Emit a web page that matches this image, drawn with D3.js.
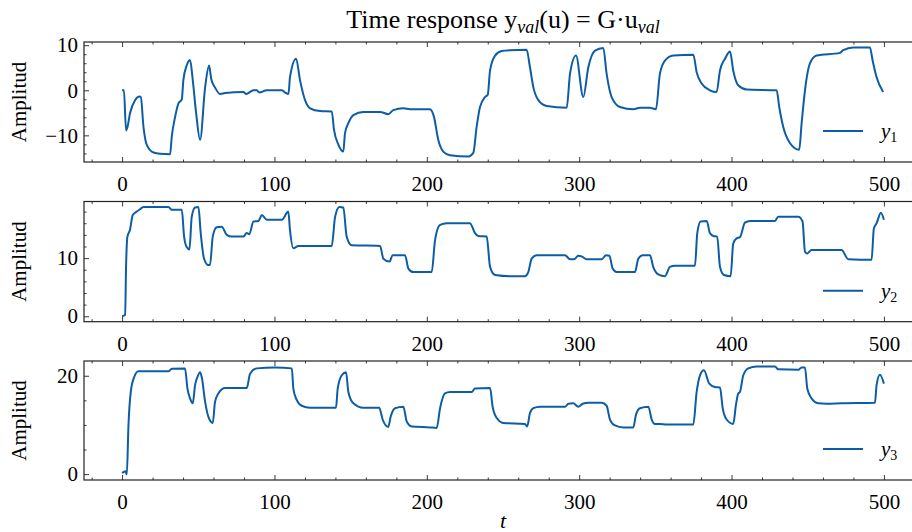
<!DOCTYPE html>
<html>
<head>
<meta charset="utf-8">
<script src="https://cdn.jsdelivr.net/npm/d3@7"></script>
<style>
  body { margin: 0; background: #fff; }
  text { font-family: "Liberation Serif", "DejaVu Serif", serif; fill: #000; }
</style>
</head>
<body>
<svg id="fig" width="912" height="532"></svg>
<script>
// time axis ticks
var xMajor = [0, 100, 200, 300, 400, 500];

// y1 readings (t, value)
var y1T = [0,1.2,2.6,3.5,5.2,8.5,11.5,12.3,14,16.2,20.6,25,31.5,32.6,34.8,37,39.2,40.2,42.4,44.6,46.4,48.6,51.2,54.5,57.1,58.5,61,64.3,67.6,79.6,81.4,86.2,88.3,90.1,95,104.8,107,109.2,110.2,114.2,116.8,120.1,123.4,130,137.6,139.1,142,145.2,146.3,148.5,151.8,158.3,169.3,174.7,178,184.6,189,202,204.7,207.5,210.8,215.2,227.2,230.5,232.7,234.9,238.2,240,241.5,244.8,249.1,254.6,265.5,267.7,269.9,273.2,278.7,291.8,294,297.9,302.7,306,310.4,315.8,318,321.3,326.8,335.5,339.9,346.4,350.4,353,356.3,361.8,374.9,377.1,380.4,385.8,390.2,392.4,395.7,399,401.1,404.4,409.9,429.6,431.3,433.9,438.3,444.4,446,448.2,451.4,455.8,471.1,473.3,479.9,490.8,492.6,495.2,499.5];
var y1V = [0,0,-8.9,-8.2,-5.1,-2.2,-1.4,-1.5,-8,-12.1,-13.8,-14.1,-14.2,-10.3,-5.9,-2.9,-2.0,2.2,5.5,6.7,2.2,-5.1,-11.0,0.7,5.5,2.5,0.6,-0.8,-0.6,-0.4,-0.8,0,0,-0.5,0,0,-0.5,-0.8,2.9,7.0,2.2,-2.2,-4.0,-4.6,-4.7,-8.8,-12.1,-13.6,-9.5,-7.3,-5.5,-4.8,-4.8,-5.3,-4.4,-4.0,-4.2,-4.2,-5.9,-11,-13.6,-14.4,-14.7,-13.9,-8.1,-3.7,-1.5,-1.0,4.4,7.7,8.7,8.9,9.0,5.1,0.7,-2.2,-3.5,-3.9,3.7,7.7,-1.5,5.1,8.8,9.4,3.7,-1.5,-3.7,-4.2,-3.9,-3.9,-4.2,3.7,6.6,7.7,7.9,4.0,1.5,0,-0.4,4.4,7.0,8.6,4.4,1.1,0.15,0,-3.7,-8.1,-11.7,-13.2,-7.3,0,5.9,7.7,8.3,8.9,9.5,9.5,6.6,2.9,-0.4];

// y2 readings
var y2T = [0,2,2.6,3.5,5.2,7,9.6,11.8,14,30.4,32.6,39.2,40.7,42.4,44.2,45.7,47.9,50.1,51.6,53.8,56.6,57.7,59.5,62.1,65.4,68.7,72,79.6,81.8,83.5,86.2,89.5,91.7,95,104.8,109.1,110.2,112.4,115.7,137.6,139.8,142.6,145.2,147.4,150.7,169.3,171.5,175.5,177.6,185.7,187.9,191.1,203.2,205.4,208.7,213.1,228.3,231.6,233.8,239.3,241.5,244.8,254.6,264.4,266.6,268.8,272.1,290.7,294,296.6,299.4,301.6,304.9,314.8,317.6,319.8,322,324.6,336.6,338.8,341.7,346.5,348.6,351.9,356.3,359.6,362.9,376,377.5,379.7,383.7,385.8,388,390.6,392.4,395,399.4,401.1,403.3,405.5,408.8,412.1,428.5,430.6,443.8,446.6,448.2,449.7,452.5,472.2,476.6,491.9,493.4,495.2,498,500];
var y2V = [0,0.2,8.5,13.7,14.9,17.4,18.0,18.4,18.8,18.8,18.3,18.3,13.7,11.9,11.5,17.1,18.7,18.8,14.3,9.9,8.8,8.8,13.7,15.3,15.4,14.0,13.7,13.7,14.3,14.1,16.3,16.4,17.4,16.6,16.6,18.0,14.8,11.7,12.1,12.1,17.1,18.8,18.7,13.7,12.2,12.1,9.9,9.4,10.5,10.5,8.2,7.6,7.6,13.1,15.7,16.0,16.0,14.3,13.8,13.7,8.5,7.1,6.9,6.9,7.6,9.9,10.5,10.5,9.8,9.8,10.4,10.3,9.8,9.8,10.5,10.4,8.2,7.6,7.6,9.9,10.5,10.5,8.5,7.2,6.9,8.5,8.7,8.7,14.3,16.3,16.4,14.3,13.8,13.7,8.5,7.1,6.9,12.5,13.4,13.6,16.1,16.4,16.4,17.1,17.1,16.3,11.1,10.8,11.4,11.4,9.8,9.7,15.1,16.0,17.8,16.6];

// y3 readings
var y3T = [0,2.2,3.1,4.2,5.7,7.9,10.7,30.4,32.6,41.3,42.9,44.6,46.4,47.9,49.4,51.2,52.3,54.5,56.6,59.5,61,63.2,67.6,81.8,84,88.4,100.4,111.4,112.4,114.6,117.9,123.4,140.4,141.5,144.2,147,148.5,151.8,158.3,168.8,171,174.7,176.3,179.1,184.6,186.8,190.1,202,206.5,208.7,211.9,215.2,229.5,231.6,241.5,243.2,245.9,250.2,264.4,265.9,267.7,269.9,274.3,290.7,292.9,296.1,299.4,302.3,306,314.8,318,320.2,323.5,329,335.5,337.3,339.9,345.4,347.6,349.7,353,357.4,374.9,377.1,379.3,381.9,385.4,389.1,392.4,394.2,396.8,401.1,402.9,404.4,405.5,407.7,411,416.4,428.5,430.6,443.8,446,448.2,449.7,452.5,456.9,462.4,472.2,494.1,495.2,497.4,500];
var y3V = [0.2,0.6,-0.1,10.1,16.7,19.7,20.9,20.9,21.4,21.5,17.4,15.4,14.4,18.1,19.7,20.7,19.7,14.7,11.7,10.4,14.7,16.4,17.5,17.5,20.4,21.5,21.7,21.5,17.4,15.1,13.9,13.5,13.5,17.4,20.1,20.7,16.7,14.4,13.5,13.5,11.1,9.6,11.7,13.4,13.7,10.7,9.7,9.5,9.4,13.4,16.4,16.7,16.7,17.4,17.5,13.7,11.4,10.4,10.2,9.7,12.4,13.4,13.7,13.7,14.3,14.4,13.7,14.3,14.5,14.5,13.9,11.1,9.9,9.5,9.5,12.1,13.4,13.7,11.1,10.2,10.2,10.1,10.1,16.7,20.1,21.1,18.4,17.7,17.6,13.4,11.1,10.2,14.1,16.4,16.7,20.1,21.5,21.9,21.9,21.3,21.2,21.7,21.7,17.4,15.4,14.4,14.3,14.4,14.5,18.1,20.2,18.4];

// y-axis ticks per panel
var y1Major = [-10, 0, 10];
var y2Major = [0, 10];
var y3Major = [0, 20];

var seriesNames = ["1", "2", "3"];

var lineColor = "#0C5DA5";
var svg = d3.select("#fig");

var x = d3.scaleLinear().domain([-25, 525]).range([84, 922]);
var xMinor = d3.range(-20, 521, 20).filter(function(d){ return xMajor.indexOf(d) < 0; });

var panels = [
  {T: y1T, V: y1V, major: y1Major, minorStep: 2, top: 42, bottom: 162},
  {T: y2T, V: y2V, major: y2Major, minorStep: 2, top: 201.5, bottom: 321.7},
  {T: y3T, V: y3V, major: y3Major, minorStep: 5, top: 361, bottom: 480}
];

var fmt = function(d){ return d3.format("d")(d).replace("-", "\u2212"); };

panels.forEach(function(p, i){
  var ext = d3.extent(p.V);
  var pad = (ext[1] - ext[0]) * 0.05;
  var y = d3.scaleLinear().domain([ext[0] - pad, ext[1] + pad]).range([p.bottom, p.top]);
  var dom = y.domain();
  var yMinor = d3.range(Math.ceil(dom[0] / p.minorStep) * p.minorStep, dom[1], p.minorStep)
    .filter(function(d){ return p.major.indexOf(d) < 0; });

  var g = svg.append("g");

  // data line
  var pts = d3.zip(p.T, p.V);
  g.append("path")
    .datum(pts)
    .attr("fill", "none")
    .attr("stroke", lineColor)
    .attr("stroke-width", 2)
    .attr("stroke-linejoin", "round")
    .attr("d", d3.line().x(function(d){ return x(d[0]); }).y(function(d){ return y(d[1]); }).curve(d3.curveMonotoneX));

  // ticks: bottom/top/left/right, inward
  var addAxis = function(axis, tr, labels){
    var a = g.append("g").attr("transform", tr).call(axis);
    a.select(".domain").remove();
    a.selectAll("line").attr("stroke", "#222").attr("stroke-width", 0.9);
    a.attr("font-family", null).attr("font-size", 21);
    if (!labels) a.selectAll("text").remove();
    return a;
  };
  addAxis(d3.axisBottom(x).tickValues(xMajor).tickSize(-5).tickPadding(14).tickFormat(fmt), "translate(0," + p.bottom + ")", true);
  addAxis(d3.axisBottom(x).tickValues(xMinor).tickSize(-2.5).tickFormat(""), "translate(0," + p.bottom + ")", false);
  addAxis(d3.axisTop(x).tickValues(xMajor).tickSize(-5).tickFormat(""), "translate(0," + p.top + ")", false);
  addAxis(d3.axisTop(x).tickValues(xMinor).tickSize(-2.5).tickFormat(""), "translate(0," + p.top + ")", false);
  addAxis(d3.axisLeft(y).tickValues(p.major).tickSize(-5).tickPadding(6).tickFormat(fmt), "translate(84,0)", true);
  addAxis(d3.axisLeft(y).tickValues(yMinor).tickSize(-2.5).tickFormat(""), "translate(84,0)", false);
  addAxis(d3.axisRight(y).tickValues(p.major).tickSize(-5).tickFormat(""), "translate(922,0)", false);
  addAxis(d3.axisRight(y).tickValues(yMinor).tickSize(-2.5).tickFormat(""), "translate(922,0)", false);

  // frame
  g.append("rect")
    .attr("x", 84).attr("y", p.top)
    .attr("width", 922 - 84).attr("height", p.bottom - p.top)
    .attr("fill", "none").attr("stroke", "#222").attr("stroke-width", 1.2);

  // y label
  g.append("text")
    .attr("transform", "translate(26," + ((p.top + p.bottom) / 2) + ") rotate(-90)")
    .attr("text-anchor", "middle")
    .attr("font-size", 21)
    .text("Amplitud");

  // legend
  var ly = p.bottom - 31;
  g.append("line")
    .attr("x1", 823).attr("x2", 863).attr("y1", ly).attr("y2", ly)
    .attr("stroke", lineColor).attr("stroke-width", 2);
  var lt = g.append("text").attr("x", 881).attr("y", ly + 7).attr("font-size", 21);
  lt.append("tspan").attr("font-style", "italic").text("y");
  lt.append("tspan").attr("font-size", 14).attr("dy", 4).text(seriesNames[i]);
});

// title
var title = svg.append("text")
  .attr("x", 503).attr("y", 28)
  .attr("text-anchor", "middle")
  .attr("font-size", 26);
title.append("tspan").text("Time response y");
title.append("tspan").attr("font-size", 18).attr("font-style", "italic").attr("dy", 5).text("val");
title.append("tspan").attr("dy", -5).text("(u) = G\u00b7u");
title.append("tspan").attr("font-size", 18).attr("font-style", "italic").attr("dy", 5).text("val");

// x label
svg.append("text")
  .attr("x", 503).attr("y", 528)
  .attr("text-anchor", "middle")
  .attr("font-size", 22)
  .attr("font-style", "italic")
  .text("t");
</script>
</body>
</html>
